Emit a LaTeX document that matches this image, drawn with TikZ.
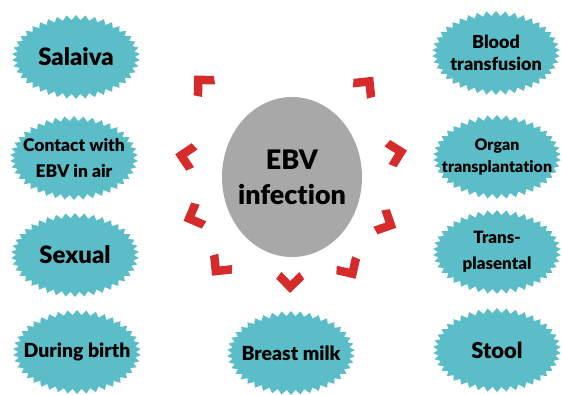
\documentclass[tikz,border=0pt]{standalone}
\usepackage{fontspec}
\setmainfont{Lato}[BoldFont={Lato Black},Ligatures=NoCommon]
\definecolor{burst}{HTML}{5BBDC8}
\definecolor{core}{HTML}{A9A8A9}
\definecolor{chev}{HTML}{D52B2B}
\usetikzlibrary{shapes.symbols,shapes.geometric}

\begin{document}
\begin{tikzpicture}[x=1bp,y=1bp,
  every node/.style={font=\bfseries,text=black,align=center},
  burst/.style={starburst,random starburst=0,starburst points=42,starburst point height=5bp,fill=burst,draw=none,inner sep=0pt,minimum width=128bp,minimum height=84bp},
  tight/.style={font=\bfseries\fontsize{#1}{22}\selectfont},
  loose/.style={font=\bfseries\fontsize{#1}{26}\selectfont}]
\useasboundingbox (0,0) rectangle (562,394);
\node[ellipse,fill=core,inner sep=0pt,minimum width=140bp,minimum height=160bp,
  label={[font=\bfseries\fontsize{27}{35}\selectfont]center:EBV\\infection}] (ebv) at (292,217) {};
\node[burst,label={[tight=24]center:Salaiva}] (sal) at (76,337) {};
\node[burst,label={[loose=17.5]center:Contact with\\EBV in air}] (air) at (74,236) {};
\node[burst,label={[tight=24]center:Sexual}] (sex) at (75,139) {};
\node[burst,label={[tight=19.5]center:During birth}] (birth) at (77,42) {};
\node[burst,label={[tight=19.5]center:Breast milk}] (milk) at (291,41) {};
\node[burst,label={[tight=22]center:Stool}] (stool) at (497,44) {};
\node[burst,label={[loose=17]center:Trans-\\plasental}] (plac) at (497,142) {};
\node[burst,label={[tight=16]center:Organ\\transplantation}] (organ) at (497,237) {};
\node[burst,label={[tight=18]center:Blood\\transfusion}] (blood) at (496,341) {};
% red chevrons round the centre
\foreach \a/\r in {134/131,51/119,169/109,13/108,202/107,334/106,231/117,302/110,269/106}
  \fill[chev,shift={(ebv.center)},shift={(\a:\r)},rotate=\a]
    (10,0) -- (-4,14) -- (-11,9) -- (-2,0) -- (-11,-9) -- (-4,-14) -- cycle;
\end{tikzpicture}
\end{document}
